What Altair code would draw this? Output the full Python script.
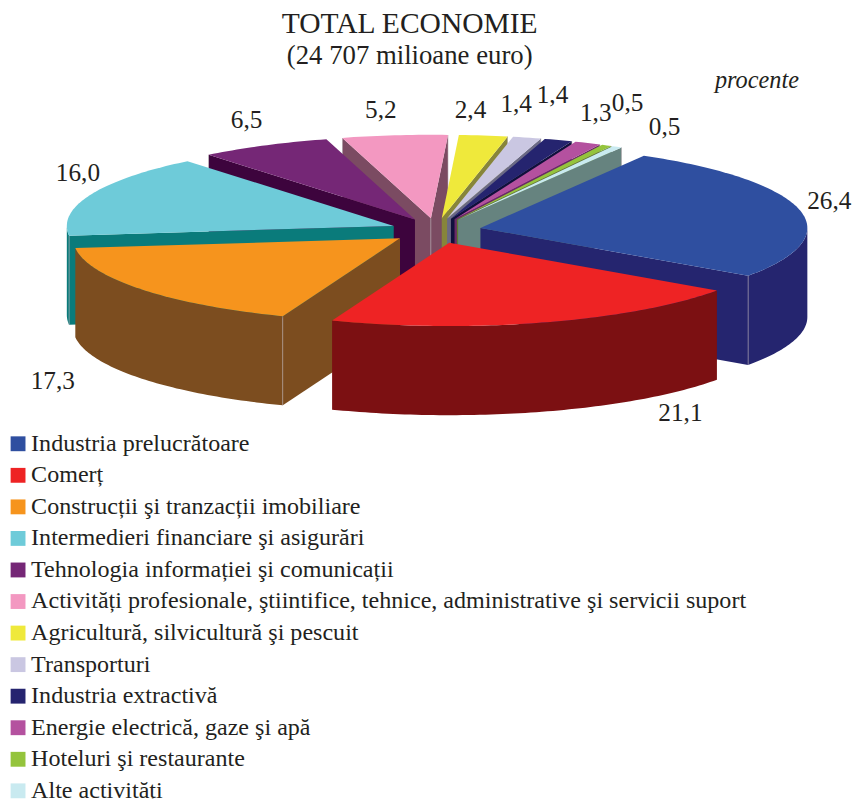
import math
import altair as alt

names = ["Industria prelucrătoare", "Comerț", "Construcții şi tranzacții imobiliare",
         "Intermedieri financiare şi asigurări", "Tehnologia informației şi comunicații",
         "Activități profesionale, ştiintifice, tehnice, administrative şi servicii suport",
         "Agricultură, silvicultură şi pescuit", "Transporturi", "Industria extractivă",
         "Energie electrică, gaze şi apă", "Hoteluri şi restaurante", "Alte activități"]
values = [26.4, 21.1, 17.3, 16.0, 6.5, 5.2, 2.4, 1.4, 1.4, 1.3, 0.5, 0.5]
labels = ["26,4", "21,1", "17,3", "16,0", "6,5", "5,2", "2,4", "1,4", "1,4", "1,3", "0,5", "0,5"]
top_colors = ["#2f4fa0", "#ee2324", "#f6941d", "#6ecbd9", "#752776", "#f398c1",
              "#efe93b", "#cac7e2", "#25246f", "#b4519f", "#94c43c", "#c9eaf0"]
side_colors = ["#25256f", "#7c1012", "#7c4d1f", "#0a7b7b", "#3d043d", "#7b4b62",
               "#87853a", "#6b6a85", "#10103c", "#6b2a66", "#5a7a30", "#66837f"]
label_shift = [(30, -9), (137, 92), (-90, 92), (-13, -22), (-18, -26), (-14, -25),
               (-13, -26), (-11, -34), (-6, -45), (8, -30), (21, -43), (48, -20)]

CX, CY, EXPLODE, EXPLODE_Y, R, K, DEPTH, START = 432.0, 221.0, 46.0, 12.7, 330.0, 0.255, 90.0, 30.0


def rim(apex, deg):
    a = math.radians(deg)
    return (apex[0] + R * math.sin(a), apex[1] - R * K * math.cos(a))


def down(p):
    return (p[0], p[1] + DEPTH)


def poly(key, pts):
    ring = [list(p) for p in pts] + [list(pts[0])]
    return {"type": "Feature", "properties": {"key": key},
            "geometry": {"type": "Polygon", "coordinates": [ring]}}


def edge(p):
    w = 0.3
    return poly("edge", [(p[0] - w, p[1]), (p[0] + w, p[1]), (p[0] + w, p[1] + DEPTH), (p[0] - w, p[1] + DEPTH)])


slices, cum = [], 0.0
for i, v in enumerate(values):
    a0 = START + cum * 3.6
    a1 = a0 + v * 3.6
    cum += v
    mid = math.radians((a0 + a1) / 2)
    apex = (CX + EXPLODE * math.sin(mid), CY - EXPLODE_Y * math.cos(mid))
    slices.append(dict(i=i, a0=a0, a1=a1, mid=mid, apex=apex))

features = []
for s in sorted(slices, key=lambda s: -math.cos(s["mid"])):
    n, side = names[s["i"]], names[s["i"]] + "|side"
    a0, a1, apex = s["a0"], s["a1"], s["apex"]
    steps = max(2, int(a1 - a0))
    degs = [a0 + (a1 - a0) * j / steps for j in range(steps + 1)]
    arc = [rim(apex, d) for d in degs]
    faces = []
    if math.sin(math.radians(a0)) < 0:
        faces.append(a0)
    if math.sin(math.radians(a1)) > 0:
        faces.append(a1)
    for d in faces:
        p = rim(apex, d)
        features.append(poly(side, [apex, p, down(p), down(apex)]))
    lo, hi = max(a0, 90.0), min(a1, 270.0)
    if hi > lo:
        wsteps = max(2, int(hi - lo))
        wall = [rim(apex, lo + (hi - lo) * j / wsteps) for j in range(wsteps + 1)]
        features.append(poly(side, wall + [down(p) for p in reversed(wall)]))
    for d in faces:
        features.append(edge(rim(apex, d)))
    if len(faces) == 2:
        features.append(edge(apex))
    features.append(poly(n, [apex] + arc))

label_rows = []
for s in slices:
    m = s["mid"]
    i = s["i"]
    label_rows.append({"t": labels[i],
                       "lon": CX + (R + EXPLODE) * math.sin(m) + label_shift[i][0],
                       "lat": CY - (R * K + EXPLODE_Y) * math.cos(m) + label_shift[i][1]})

proj = alt.Projection(type="identity", scale=1, translate=[0, 0])
domain = names + [n + "|side" for n in names] + ["edge"]
rng = top_colors + side_colors + ["#b9aeb4"]

pie = alt.Chart(alt.InlineData(values={"type": "FeatureCollection", "features": features},
                               format=alt.DataFormat(type="json", property="features"))).mark_geoshape(strokeWidth=0).encode(
    color=alt.Color("properties.key:N", scale=alt.Scale(domain=domain, range=rng),
                    legend=alt.Legend(values=names, orient="none", legendX=-2, legendY=424, title=None,
                                      symbolType="square", symbolSize=225, symbolStrokeWidth=0,
                                      labelFont="Liberation Serif", labelFontSize=24.3, labelColor="#231f20",
                                      labelLimit=840, rowPadding=6.85, labelOffset=1, padding=0,
                                      columns=1))
)

text = alt.Chart(alt.Data(values=label_rows)).mark_text(
    font="Liberation Serif", fontSize=25.5, color="#231f20", baseline="middle", align="center"
).encode(longitude="lon:Q", latitude="lat:Q", text="t:N")

note = alt.Chart(alt.Data(values=[{"t": "procente", "lon": 756, "lat": 70}])).mark_text(
    font="Liberation Serif", fontSize=24.5, fontStyle="italic", color="#231f20", baseline="middle", align="center"
).encode(longitude="lon:Q", latitude="lat:Q", text="t:N")

chart = alt.layer(pie, text, note, projection=proj).properties(
    width=853, height=791, padding=0, autosize=alt.AutoSizeParams(type="none"),
    title=alt.TitleParams(text="TOTAL ECONOMIE", subtitle="(24 707 milioane euro)", anchor="middle", dx=-21, dy=62,
                          font="Liberation Serif", fontSize=29.8, fontWeight="normal", color="#231f20",
                          subtitleFont="Liberation Serif", subtitleFontSize=27, subtitleColor="#231f20",
                          subtitleFontWeight="normal", subtitlePadding=5)
).configure_view(stroke=None)

chart.save("out.html", embed_options={"renderer": "svg", "actions": False})
